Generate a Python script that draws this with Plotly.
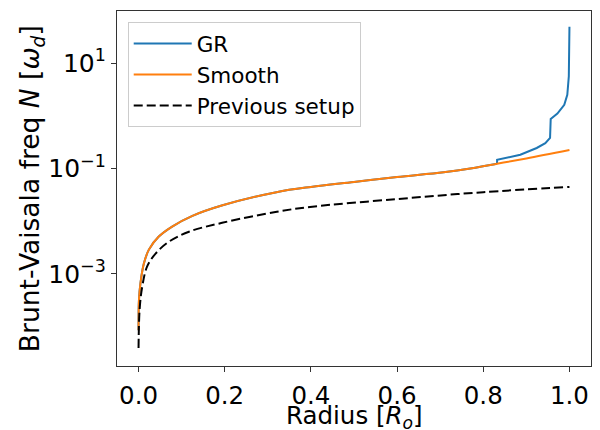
import plotly.graph_objects as go

# Smooth profile (radius, N)
smooth_x = [0.0, 0.001, 0.0046, 0.0125, 0.024, 0.047, 0.078, 0.125, 0.195, 0.32,
            0.4, 0.5, 0.6, 0.708, 0.77, 0.832, 0.9, 1.0]
smooth_y = [8.5e-5, 3.24e-4, 6.8e-4, 1.58e-3, 2.88e-3, 5.1e-3, 7.9e-3, 0.0126, 0.020, 0.0355,
            0.0447, 0.0556, 0.069, 0.085, 0.100, 0.123, 0.155, 0.224]

# GR profile: follows the smooth one up to r ~ 0.832, then its own branch
gr_tail_x = [0.832, 0.8321, 0.886, 0.905, 0.924, 0.944, 0.955, 0.9565, 0.972, 0.988, 0.995,
             0.9985, 0.9995, 1.0]
gr_tail_y = [0.123, 0.146, 0.182, 0.209, 0.245, 0.302, 0.38, 0.87, 1.10, 1.62, 2.51,
             5.6, 15.5, 49.0]

# Previous setup
prev_x = [0.0, 0.0025, 0.0086, 0.020, 0.04, 0.0705, 0.117, 0.194, 0.321, 0.398, 0.6, 0.8, 1.0]
prev_y = [3.9e-5, 2.1e-4, 5.75e-4, 1.38e-3, 2.45e-3, 4.07e-3, 6.3e-3, 9.3e-3, 0.0151,
          0.0186, 0.0263, 0.0355, 0.0447]

x_ticks = [0.0, 0.2, 0.4, 0.6, 0.8, 1.0]
x_ticklabels = ["0.0", "0.2", "0.4", "0.6", "0.8", "1.0"]
y_ticks = [1e-3, 1e-1, 1e1]
y_ticklabels = ["10<sup>\u22123</sup>", "10<sup>\u22121</sup>", "10<sup>1</sup>"]

x_title = "Radius [<i>R</i><sub><i>o</i></sub>]"
y_title = "Brunt-Vaisala freq <i>N</i> [<i>\u03c9</i><sub><i>d</i></sub>]"

gr_head_x = [x for x in smooth_x if x <= 0.832]
gr_head_y = [y for x, y in zip(smooth_x, smooth_y) if x <= 0.832]

FONT = "DejaVu Sans"
BLUE, ORANGE = "#1f77b4", "#ff7f0e"

fig = go.Figure()
fig.add_trace(go.Scatter(x=gr_tail_x, y=gr_tail_y, mode="lines", name="GR",
                         legendgroup="gr", line=dict(color=BLUE, width=2)))
fig.add_trace(go.Scatter(x=gr_head_x, y=gr_head_y, mode="lines", name="GR",
                         legendgroup="gr", showlegend=False,
                         line=dict(color=BLUE, width=2, shape="spline", smoothing=1.0)))
fig.add_trace(go.Scatter(x=smooth_x, y=smooth_y, mode="lines", name="Smooth",
                         line=dict(color=ORANGE, width=2, shape="spline", smoothing=1.0)))
fig.add_trace(go.Scatter(x=prev_x, y=prev_y, mode="lines", name="Previous setup",
                         line=dict(color="black", width=2, dash="9px,4px",
                                   shape="spline", smoothing=1.0)))

fig.update_layout(
    width=600, height=430,
    margin=dict(l=117, r=9, t=11, b=64),
    paper_bgcolor="white", plot_bgcolor="white",
    font=dict(family=FONT, color="black", size=25),
    showlegend=True,
    legend=dict(x=0.0226, y=0.969, xanchor="left", yanchor="top",
                bgcolor="rgba(255,255,255,0.8)", bordercolor="#cccccc", borderwidth=1,
                itemwidth=58, traceorder="normal",
                font=dict(family=FONT, size=21.5, color="black")),
    annotations=[
        dict(text=x_title, xref="paper", yref="paper", x=0.5, y=-0.092,
             xanchor="center", yanchor="top", showarrow=False,
             font=dict(family=FONT, size=24.5, color="black")),
        dict(text=y_title, xref="paper", yref="paper", x=-0.18, y=0.5,
             xanchor="center", yanchor="middle", showarrow=False, textangle=-90,
             font=dict(family=FONT, size=26.5, color="black")),
    ],
)
fig.update_xaxes(
    range=[-0.05, 1.05], tickvals=x_ticks, ticktext=x_ticklabels,
    showline=True, linecolor="#333333", linewidth=1.2, mirror=True,
    ticks="outside", ticklen=5, tickcolor="#333333", tickwidth=1.2,
    showgrid=False, zeroline=False, automargin=False, ticklabelstandoff=2,
    tickfont=dict(family=FONT, size=24.5),
)
fig.update_yaxes(
    type="log", range=[-4.75, 1.99], tickvals=y_ticks, ticktext=y_ticklabels,
    showline=True, linecolor="#333333", linewidth=1.2, mirror=True,
    ticks="outside", ticklen=5, tickcolor="#333333", tickwidth=1.2,
    showgrid=False, zeroline=False, automargin=False,
    tickfont=dict(family=FONT, size=25),
)

fig.write_html("out.html", config={"displayModeBar": False},
               post_script="document.body.style.margin='0';document.body.style.padding='0';")
